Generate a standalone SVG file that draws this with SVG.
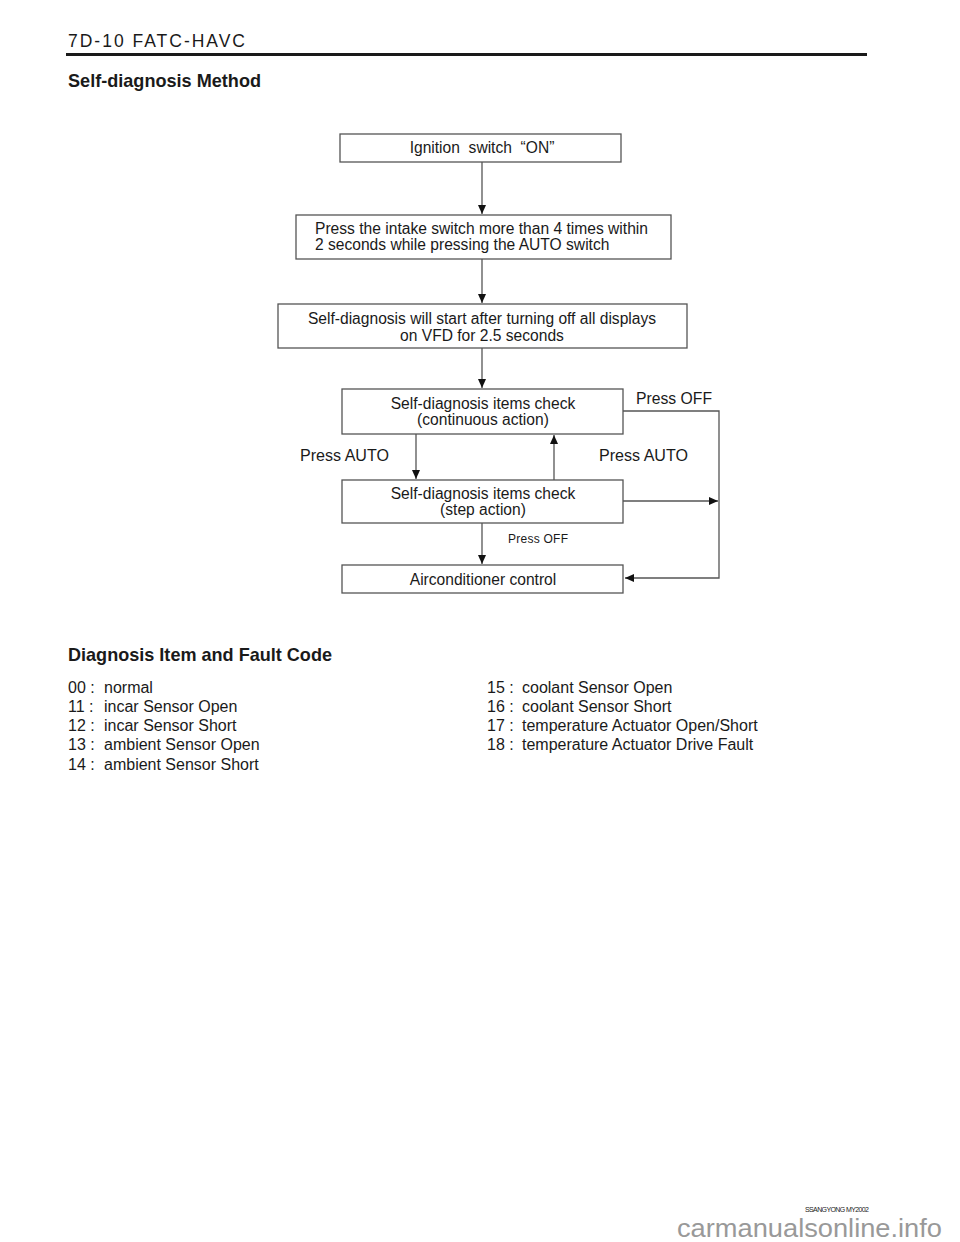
<svg xmlns="http://www.w3.org/2000/svg" width="960" height="1242" viewBox="0 0 960 1242">
<style>
.t{font-family:"Liberation Sans",Arial,sans-serif;fill:#1a1a1a}
.b{fill:#fff;stroke:#555;stroke-width:1.3}
.c{fill:none;stroke:#555;stroke-width:1.3}
.n{font-size:15.6px}
.h{font-size:18.5px;font-weight:bold}
.l{font-size:16px}
.pre{white-space:pre}
</style>
<defs>
<marker id="ah" markerWidth="10" markerHeight="10" refX="9" refY="4" orient="auto" markerUnits="userSpaceOnUse">
<path d="M0,0 L9,4 L0,8 Z" fill="#111"/>
</marker>
</defs>
<rect width="960" height="1242" fill="#fff"/>
<text class="t" x="68" y="47" font-size="17.5" letter-spacing="2" textLength="179">7D-10 FATC-HAVC</text>
<rect x="66" y="53" width="801" height="3" fill="#1a1a1a"/>
<text class="t h" x="68" y="87" textLength="193" lengthAdjust="spacingAndGlyphs">Self-diagnosis Method</text>

<g id="connectors">
<line class="c" x1="482" y1="162" x2="482" y2="214" marker-end="url(#ah)"/>
<line class="c" x1="482" y1="259" x2="482" y2="303" marker-end="url(#ah)"/>
<line class="c" x1="482" y1="348" x2="482" y2="388" marker-end="url(#ah)"/>
<line class="c" x1="416" y1="434" x2="416" y2="479" marker-end="url(#ah)"/>
<line class="c" x1="554" y1="480" x2="554" y2="435" marker-end="url(#ah)"/>
<line class="c" x1="623" y1="501" x2="718" y2="501" marker-end="url(#ah)"/>
<polyline class="c" points="623,411 719,411 719,578 625,578" marker-end="url(#ah)"/>
<line class="c" x1="482" y1="523" x2="482" y2="564" marker-end="url(#ah)"/>
<text class="t" x="636" y="404" font-size="16" textLength="76" lengthAdjust="spacingAndGlyphs">Press OFF</text>
<text class="t" x="300" y="461" font-size="16" textLength="89" lengthAdjust="spacingAndGlyphs">Press AUTO</text>
<text class="t" x="599" y="461" font-size="16" textLength="89" lengthAdjust="spacingAndGlyphs">Press AUTO</text>
<text class="t" x="508" y="543" font-size="12" textLength="60">Press OFF</text>
</g>

<g id="n1">
<rect class="b" x="340" y="134" width="281" height="28"/>
<text class="t n pre" x="482" y="153" text-anchor="middle">Ignition  switch  “ON”</text>
</g>
<g id="n2">
<rect class="b" x="296" y="215" width="375" height="44"/>
<text class="t n" x="315" y="234" textLength="333" lengthAdjust="spacingAndGlyphs">Press the intake switch more than 4 times within</text>
<text class="t n" x="315" y="250">2 seconds while pressing the AUTO switch</text>
</g>
<g id="n3">
<rect class="b" x="278" y="304" width="409" height="44"/>
<text class="t n" x="482" y="324" text-anchor="middle">Self-diagnosis will start after turning off all displays</text>
<text class="t n" x="482" y="341" text-anchor="middle">on VFD for 2.5 seconds</text>
</g>
<g id="n4">
<rect class="b" x="342" y="389" width="281" height="45"/>
<text class="t n" x="483" y="409" text-anchor="middle">Self-diagnosis items check</text>
<text class="t n" x="483" y="425" text-anchor="middle">(continuous action)</text>
</g>
<g id="n5">
<rect class="b" x="342" y="480" width="281" height="43"/>
<text class="t n" x="483" y="499" text-anchor="middle">Self-diagnosis items check</text>
<text class="t n" x="483" y="515" text-anchor="middle">(step action)</text>
</g>
<g id="n6">
<rect class="b" x="342" y="565" width="281" height="28"/>
<text class="t n" x="483" y="585" text-anchor="middle">Airconditioner control</text>
</g>

<text class="t h" x="68" y="661" textLength="264" lengthAdjust="spacingAndGlyphs">Diagnosis Item and Fault Code</text>
<g id="codes" class="t l">
<text x="68" y="693">00 :</text><text x="104" y="693">normal</text>
<text x="68" y="712">11 :</text><text x="104" y="712">incar Sensor Open</text>
<text x="68" y="731">12 :</text><text x="104" y="731">incar Sensor Short</text>
<text x="68" y="750">13 :</text><text x="104" y="750">ambient Sensor Open</text>
<text x="68" y="770">14 :</text><text x="104" y="770">ambient Sensor Short</text>
<text x="487" y="693">15 :</text><text x="522" y="693">coolant Sensor Open</text>
<text x="487" y="712">16 :</text><text x="522" y="712">coolant Sensor Short</text>
<text x="487" y="731">17 :</text><text x="522" y="731">temperature Actuator Open/Short</text>
<text x="487" y="750">18 :</text><text x="522" y="750">temperature Actuator Drive Fault</text>
</g>

<text class="t" x="805" y="1212" font-size="7" textLength="64">SSANGYONG  MY2002</text>
<text x="677" y="1237" font-family="'Liberation Sans',Arial,sans-serif" font-size="26" fill="#999" textLength="265" lengthAdjust="spacingAndGlyphs">carmanualsonline.info</text>
</svg>
